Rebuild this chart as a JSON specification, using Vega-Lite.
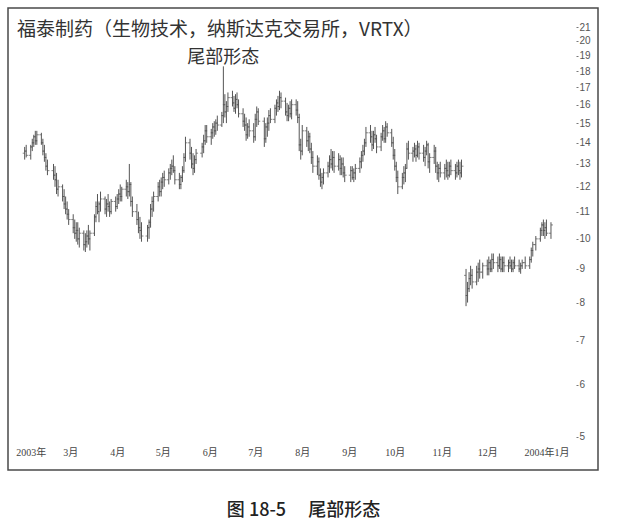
{
  "$schema": "https://vega.github.io/schema/vega-lite/v6.json",
  "width": 590,
  "height": 462,
  "padding": {"left": 8, "top": 8, "right": 19, "bottom": 5},
  "background": "white",
  "config": {
    "view": {"stroke": "#4a4a4a", "strokeWidth": 1.5},
    "font": "Noto Sans CJK SC"
  },
  "title": {
    "text": "福泰制药（生物技术，纳斯达克交易所，VRTX）",
    "anchor": "start",
    "frame": "group",
    "offset": -32,
    "dx": 9,
    "font": "Noto Sans CJK SC",
    "fontSize": 19,
    "fontWeight": "normal",
    "color": "#333333"
  },
  "data": {
    "values": [
      {"d": "2003-01-30", "o": 13.5, "h": 13.8, "l": 13.2, "c": 13.6},
      {"d": "2003-01-31", "o": 13.6, "h": 13.9, "l": 13.3, "c": 13.4},
      {"d": "2003-02-03", "o": 13.4, "h": 13.9, "l": 13.2, "c": 13.8},
      {"d": "2003-02-04", "o": 13.8, "h": 14.2, "l": 13.6, "c": 14.0},
      {"d": "2003-02-05", "o": 14.0, "h": 14.4, "l": 13.8, "c": 14.3},
      {"d": "2003-02-06", "o": 14.3, "h": 14.6, "l": 13.9, "c": 14.1},
      {"d": "2003-02-07", "o": 14.1, "h": 14.6, "l": 13.9, "c": 14.4},
      {"d": "2003-02-10", "o": 14.4, "h": 14.5, "l": 13.9, "c": 14.0},
      {"d": "2003-02-11", "o": 14.0, "h": 14.2, "l": 13.4, "c": 13.6},
      {"d": "2003-02-12", "o": 13.6, "h": 13.9, "l": 13.1, "c": 13.3},
      {"d": "2003-02-13", "o": 13.3, "h": 13.5, "l": 12.7, "c": 12.9},
      {"d": "2003-02-14", "o": 12.9, "h": 13.2, "l": 12.5, "c": 12.7},
      {"d": "2003-02-18", "o": 12.7, "h": 13.0, "l": 12.3, "c": 12.5},
      {"d": "2003-02-19", "o": 12.5, "h": 12.9, "l": 12.0, "c": 12.3},
      {"d": "2003-02-20", "o": 12.3, "h": 12.6, "l": 11.7, "c": 11.9},
      {"d": "2003-02-21", "o": 11.9, "h": 12.3, "l": 11.6, "c": 12.0},
      {"d": "2003-02-24", "o": 12.0, "h": 12.1, "l": 11.4, "c": 11.6},
      {"d": "2003-02-25", "o": 11.6, "h": 11.9, "l": 11.1, "c": 11.3},
      {"d": "2003-02-26", "o": 11.3, "h": 11.6, "l": 10.9, "c": 11.1},
      {"d": "2003-02-27", "o": 11.1, "h": 11.4, "l": 10.7, "c": 10.9},
      {"d": "2003-02-28", "o": 10.9, "h": 11.1, "l": 10.5, "c": 10.7},
      {"d": "2003-03-03", "o": 10.7, "h": 10.9, "l": 10.2, "c": 10.4},
      {"d": "2003-03-04", "o": 10.4, "h": 10.7, "l": 10.0, "c": 10.2},
      {"d": "2003-03-05", "o": 10.2, "h": 10.6, "l": 9.9, "c": 10.3},
      {"d": "2003-03-06", "o": 10.3, "h": 10.6, "l": 9.8, "c": 10.0},
      {"d": "2003-03-07", "o": 10.0, "h": 10.4, "l": 9.7, "c": 10.2},
      {"d": "2003-03-10", "o": 10.2, "h": 10.3, "l": 9.6, "c": 9.8},
      {"d": "2003-03-11", "o": 9.8, "h": 10.2, "l": 9.55, "c": 9.9},
      {"d": "2003-03-12", "o": 9.9, "h": 10.3, "l": 9.7, "c": 10.1},
      {"d": "2003-03-13", "o": 10.1, "h": 10.5, "l": 9.8, "c": 10.0},
      {"d": "2003-03-14", "o": 10.0, "h": 10.3, "l": 9.6, "c": 10.2},
      {"d": "2003-03-17", "o": 10.2, "h": 10.9, "l": 10.1, "c": 10.8},
      {"d": "2003-03-18", "o": 10.8, "h": 11.4, "l": 10.6, "c": 11.2},
      {"d": "2003-03-19", "o": 11.2, "h": 11.7, "l": 10.9, "c": 11.0},
      {"d": "2003-03-20", "o": 11.0, "h": 11.4, "l": 10.6, "c": 11.3},
      {"d": "2003-03-21", "o": 11.3, "h": 11.8, "l": 11.0, "c": 11.5},
      {"d": "2003-03-24", "o": 11.5, "h": 11.6, "l": 10.9, "c": 11.1},
      {"d": "2003-03-25", "o": 11.1, "h": 11.5, "l": 10.8, "c": 11.3},
      {"d": "2003-03-26", "o": 11.3, "h": 11.7, "l": 11.0, "c": 11.2},
      {"d": "2003-03-27", "o": 11.2, "h": 11.4, "l": 10.8, "c": 11.0},
      {"d": "2003-03-28", "o": 11.0, "h": 11.5, "l": 10.9, "c": 11.4},
      {"d": "2003-03-31", "o": 11.4, "h": 11.6, "l": 11.0, "c": 11.2},
      {"d": "2003-04-01", "o": 11.2, "h": 11.7, "l": 11.1, "c": 11.5},
      {"d": "2003-04-02", "o": 11.5, "h": 11.9, "l": 11.3, "c": 11.7},
      {"d": "2003-04-03", "o": 11.7, "h": 12.1, "l": 11.4, "c": 11.6},
      {"d": "2003-04-04", "o": 11.6, "h": 12.0, "l": 11.4, "c": 11.9},
      {"d": "2003-04-07", "o": 11.9, "h": 12.3, "l": 11.6, "c": 12.0},
      {"d": "2003-04-08", "o": 12.0, "h": 12.2, "l": 11.5, "c": 11.8},
      {"d": "2003-04-09", "o": 11.8, "h": 13.0, "l": 11.6, "c": 12.1},
      {"d": "2003-04-10", "o": 12.1, "h": 12.2, "l": 11.2, "c": 11.4},
      {"d": "2003-04-11", "o": 11.4, "h": 11.6, "l": 10.8, "c": 11.0},
      {"d": "2003-04-14", "o": 11.0, "h": 11.3, "l": 10.5, "c": 10.7},
      {"d": "2003-04-15", "o": 10.7, "h": 11.0, "l": 10.2, "c": 10.4},
      {"d": "2003-04-16", "o": 10.4, "h": 10.8, "l": 10.0, "c": 10.3},
      {"d": "2003-04-17", "o": 10.3, "h": 10.6, "l": 9.9, "c": 10.1},
      {"d": "2003-04-21", "o": 10.1, "h": 10.5, "l": 9.9, "c": 10.4},
      {"d": "2003-04-22", "o": 10.4, "h": 10.7, "l": 10.0, "c": 10.6},
      {"d": "2003-04-23", "o": 10.6, "h": 11.3, "l": 10.4, "c": 11.1},
      {"d": "2003-04-24", "o": 11.1, "h": 11.6, "l": 10.8, "c": 11.4},
      {"d": "2003-04-25", "o": 11.4, "h": 11.8, "l": 11.0, "c": 11.6},
      {"d": "2003-04-28", "o": 11.6, "h": 12.2, "l": 11.4, "c": 12.0},
      {"d": "2003-04-29", "o": 12.0, "h": 12.3, "l": 11.6, "c": 11.8},
      {"d": "2003-04-30", "o": 11.8, "h": 12.4, "l": 11.6, "c": 12.2},
      {"d": "2003-05-01", "o": 12.2, "h": 12.6, "l": 11.9, "c": 12.4},
      {"d": "2003-05-02", "o": 12.4, "h": 12.7, "l": 12.0, "c": 12.3},
      {"d": "2003-05-05", "o": 12.3, "h": 12.8, "l": 12.1, "c": 12.6},
      {"d": "2003-05-06", "o": 12.6, "h": 13.0, "l": 12.3, "c": 12.8},
      {"d": "2003-05-07", "o": 12.8, "h": 13.2, "l": 12.5, "c": 12.9},
      {"d": "2003-05-08", "o": 12.9, "h": 13.4, "l": 12.6, "c": 12.7},
      {"d": "2003-05-09", "o": 12.7, "h": 12.9, "l": 12.1, "c": 12.3},
      {"d": "2003-05-12", "o": 12.3, "h": 12.6, "l": 11.9, "c": 12.1},
      {"d": "2003-05-13", "o": 12.1, "h": 12.5, "l": 11.9, "c": 12.4},
      {"d": "2003-05-14", "o": 12.4, "h": 12.9, "l": 12.2, "c": 12.7},
      {"d": "2003-05-15", "o": 12.7, "h": 13.5, "l": 12.6, "c": 13.3},
      {"d": "2003-05-16", "o": 13.3, "h": 14.3, "l": 13.1, "c": 14.0},
      {"d": "2003-05-19", "o": 14.0, "h": 14.2, "l": 13.2, "c": 13.5},
      {"d": "2003-05-20", "o": 13.5, "h": 13.8, "l": 12.8, "c": 13.0},
      {"d": "2003-05-21", "o": 13.0, "h": 13.5, "l": 12.5, "c": 12.8},
      {"d": "2003-05-22", "o": 12.8, "h": 13.4, "l": 12.6, "c": 13.2},
      {"d": "2003-05-23", "o": 13.2, "h": 13.7, "l": 13.0, "c": 13.5},
      {"d": "2003-05-27", "o": 13.5, "h": 14.0, "l": 13.3, "c": 13.8},
      {"d": "2003-05-28", "o": 13.8, "h": 14.4, "l": 13.5, "c": 14.1},
      {"d": "2003-05-29", "o": 14.1, "h": 14.9, "l": 13.9, "c": 14.6},
      {"d": "2003-05-30", "o": 14.6, "h": 14.9, "l": 14.0, "c": 14.3},
      {"d": "2003-06-02", "o": 14.3, "h": 14.7, "l": 13.9, "c": 14.5},
      {"d": "2003-06-03", "o": 14.5, "h": 15.0, "l": 14.2, "c": 14.8},
      {"d": "2003-06-04", "o": 14.8, "h": 15.1, "l": 14.3, "c": 14.6},
      {"d": "2003-06-05", "o": 14.6, "h": 15.2, "l": 14.4, "c": 15.0},
      {"d": "2003-06-06", "o": 15.0, "h": 15.4, "l": 14.6, "c": 14.9},
      {"d": "2003-06-09", "o": 14.9, "h": 15.6, "l": 14.8, "c": 15.4},
      {"d": "2003-06-10", "o": 15.4, "h": 18.3, "l": 15.0, "c": 16.0},
      {"d": "2003-06-11", "o": 16.0, "h": 16.6, "l": 15.3, "c": 15.6},
      {"d": "2003-06-12", "o": 15.6, "h": 16.2, "l": 15.0, "c": 15.9},
      {"d": "2003-06-13", "o": 15.9, "h": 16.7, "l": 15.6, "c": 16.4},
      {"d": "2003-06-16", "o": 16.4, "h": 16.8, "l": 15.9, "c": 16.1},
      {"d": "2003-06-17", "o": 16.1, "h": 16.5, "l": 15.6, "c": 15.8},
      {"d": "2003-06-18", "o": 15.8, "h": 16.6, "l": 15.5, "c": 16.3},
      {"d": "2003-06-19", "o": 16.3, "h": 16.7, "l": 15.8, "c": 16.0},
      {"d": "2003-06-20", "o": 16.0, "h": 16.3, "l": 15.3, "c": 15.5},
      {"d": "2003-06-23", "o": 15.5, "h": 15.8, "l": 14.8, "c": 15.1},
      {"d": "2003-06-24", "o": 15.1, "h": 15.5, "l": 14.6, "c": 14.9},
      {"d": "2003-06-25", "o": 14.9, "h": 15.3, "l": 14.1, "c": 14.4},
      {"d": "2003-06-26", "o": 14.4, "h": 15.0, "l": 14.2, "c": 14.8},
      {"d": "2003-06-27", "o": 14.8, "h": 15.2, "l": 14.3, "c": 14.6},
      {"d": "2003-06-30", "o": 14.6, "h": 15.0, "l": 14.0, "c": 14.3},
      {"d": "2003-07-01", "o": 14.3, "h": 15.5, "l": 14.1, "c": 15.2},
      {"d": "2003-07-02", "o": 15.2, "h": 15.9, "l": 14.8, "c": 15.6},
      {"d": "2003-07-03", "o": 15.6, "h": 15.8, "l": 14.9, "c": 15.1},
      {"d": "2003-07-07", "o": 15.1, "h": 15.3, "l": 13.8, "c": 14.2},
      {"d": "2003-07-08", "o": 14.2, "h": 15.0, "l": 14.0, "c": 14.8},
      {"d": "2003-07-09", "o": 14.8, "h": 15.3, "l": 14.3, "c": 15.0},
      {"d": "2003-07-10", "o": 15.0, "h": 15.7, "l": 14.6, "c": 15.4},
      {"d": "2003-07-11", "o": 15.4, "h": 15.8, "l": 15.0, "c": 15.2},
      {"d": "2003-07-14", "o": 15.2, "h": 16.0, "l": 15.0, "c": 15.8},
      {"d": "2003-07-15", "o": 15.8, "h": 16.3, "l": 15.4, "c": 16.1},
      {"d": "2003-07-16", "o": 16.1, "h": 16.5, "l": 15.6, "c": 15.9},
      {"d": "2003-07-17", "o": 15.9, "h": 16.8, "l": 15.7, "c": 16.4},
      {"d": "2003-07-18", "o": 16.4, "h": 16.7, "l": 15.8, "c": 16.2},
      {"d": "2003-07-21", "o": 16.2, "h": 16.4, "l": 15.4, "c": 15.6},
      {"d": "2003-07-22", "o": 15.6, "h": 16.1, "l": 15.1, "c": 15.4},
      {"d": "2003-07-23", "o": 15.4, "h": 16.0, "l": 15.1, "c": 15.8},
      {"d": "2003-07-24", "o": 15.8, "h": 16.2, "l": 15.3, "c": 15.5},
      {"d": "2003-07-25", "o": 15.5, "h": 16.3, "l": 15.2, "c": 16.0},
      {"d": "2003-07-28", "o": 16.0, "h": 16.3, "l": 15.4, "c": 15.7},
      {"d": "2003-07-29", "o": 15.7, "h": 16.2, "l": 15.0, "c": 15.3},
      {"d": "2003-07-30", "o": 15.3, "h": 15.5, "l": 13.6, "c": 13.9},
      {"d": "2003-07-31", "o": 13.9, "h": 14.2, "l": 13.2, "c": 13.6},
      {"d": "2003-08-01", "o": 13.6, "h": 14.9, "l": 13.4, "c": 14.6},
      {"d": "2003-08-04", "o": 14.6, "h": 14.8, "l": 13.8, "c": 14.1},
      {"d": "2003-08-05", "o": 14.1, "h": 14.6, "l": 13.6, "c": 14.3},
      {"d": "2003-08-06", "o": 14.3, "h": 14.5, "l": 13.5, "c": 13.7},
      {"d": "2003-08-07", "o": 13.7, "h": 14.0, "l": 13.0, "c": 13.3},
      {"d": "2003-08-08", "o": 13.3, "h": 13.6, "l": 12.6, "c": 12.9},
      {"d": "2003-08-11", "o": 12.9, "h": 13.4, "l": 12.5, "c": 13.1},
      {"d": "2003-08-12", "o": 13.1, "h": 13.3, "l": 12.3, "c": 12.5},
      {"d": "2003-08-13", "o": 12.5, "h": 12.8, "l": 12.0, "c": 12.2},
      {"d": "2003-08-14", "o": 12.2, "h": 12.6, "l": 11.9, "c": 12.4},
      {"d": "2003-08-15", "o": 12.4, "h": 12.8, "l": 12.1, "c": 12.6},
      {"d": "2003-08-18", "o": 12.6, "h": 13.1, "l": 12.4, "c": 12.9},
      {"d": "2003-08-19", "o": 12.9, "h": 13.4, "l": 12.6, "c": 13.2},
      {"d": "2003-08-20", "o": 13.2, "h": 13.7, "l": 12.8, "c": 13.0},
      {"d": "2003-08-21", "o": 13.0, "h": 13.6, "l": 12.7, "c": 13.3},
      {"d": "2003-08-22", "o": 13.3, "h": 13.6, "l": 12.6, "c": 12.9},
      {"d": "2003-08-25", "o": 12.9, "h": 13.5, "l": 12.7, "c": 13.2},
      {"d": "2003-08-26", "o": 13.2, "h": 13.4, "l": 12.5, "c": 12.8},
      {"d": "2003-08-27", "o": 12.8, "h": 13.3, "l": 12.5, "c": 13.0},
      {"d": "2003-08-28", "o": 13.0, "h": 13.3, "l": 12.4, "c": 12.6},
      {"d": "2003-08-29", "o": 12.6, "h": 12.9, "l": 12.2, "c": 12.5},
      {"d": "2003-09-02", "o": 12.5, "h": 12.9, "l": 12.2, "c": 12.7},
      {"d": "2003-09-03", "o": 12.7, "h": 12.9, "l": 12.3, "c": 12.4},
      {"d": "2003-09-04", "o": 12.4, "h": 12.8, "l": 12.2, "c": 12.6},
      {"d": "2003-09-05", "o": 12.6, "h": 13.0, "l": 12.3, "c": 12.8},
      {"d": "2003-09-08", "o": 12.8, "h": 13.3, "l": 12.6, "c": 13.1},
      {"d": "2003-09-09", "o": 13.1, "h": 13.6, "l": 12.8, "c": 13.4},
      {"d": "2003-09-10", "o": 13.4, "h": 13.9, "l": 13.1, "c": 13.6},
      {"d": "2003-09-11", "o": 13.6, "h": 14.2, "l": 13.4, "c": 14.0},
      {"d": "2003-09-12", "o": 14.0, "h": 14.8, "l": 13.8, "c": 14.5},
      {"d": "2003-09-15", "o": 14.5, "h": 14.9, "l": 14.0, "c": 14.3},
      {"d": "2003-09-16", "o": 14.3, "h": 14.6, "l": 13.6, "c": 13.9},
      {"d": "2003-09-17", "o": 13.9, "h": 14.6, "l": 13.7, "c": 14.4},
      {"d": "2003-09-18", "o": 14.4, "h": 14.8, "l": 14.0, "c": 14.2},
      {"d": "2003-09-19", "o": 14.2, "h": 14.4, "l": 13.5, "c": 13.8},
      {"d": "2003-09-22", "o": 13.8, "h": 14.5, "l": 13.6, "c": 14.3},
      {"d": "2003-09-23", "o": 14.3, "h": 14.9, "l": 14.1, "c": 14.6},
      {"d": "2003-09-24", "o": 14.6, "h": 14.8, "l": 14.0, "c": 14.2},
      {"d": "2003-09-25", "o": 14.2, "h": 15.1, "l": 14.0, "c": 14.8},
      {"d": "2003-09-26", "o": 14.8, "h": 15.0, "l": 14.3, "c": 14.5},
      {"d": "2003-09-29", "o": 14.5, "h": 14.7, "l": 13.8, "c": 14.0},
      {"d": "2003-09-30", "o": 14.0, "h": 14.3, "l": 13.2, "c": 13.4},
      {"d": "2003-10-01", "o": 13.4, "h": 13.7, "l": 12.7, "c": 12.9},
      {"d": "2003-10-02", "o": 12.9, "h": 13.1, "l": 12.2, "c": 12.4},
      {"d": "2003-10-03", "o": 12.4, "h": 12.7, "l": 11.7, "c": 12.0},
      {"d": "2003-10-06", "o": 12.0, "h": 12.6, "l": 11.9, "c": 12.4},
      {"d": "2003-10-07", "o": 12.4, "h": 12.9, "l": 12.1, "c": 12.6},
      {"d": "2003-10-08", "o": 12.6, "h": 13.0, "l": 12.2, "c": 12.8},
      {"d": "2003-10-09", "o": 12.8, "h": 14.0, "l": 12.8, "c": 13.7},
      {"d": "2003-10-10", "o": 13.7, "h": 14.1, "l": 13.2, "c": 13.5},
      {"d": "2003-10-13", "o": 13.5, "h": 13.8, "l": 13.1, "c": 13.6},
      {"d": "2003-10-14", "o": 13.6, "h": 14.0, "l": 13.3, "c": 13.7},
      {"d": "2003-10-15", "o": 13.7, "h": 13.9, "l": 13.1, "c": 13.4},
      {"d": "2003-10-16", "o": 13.4, "h": 14.1, "l": 13.3, "c": 13.8},
      {"d": "2003-10-17", "o": 13.8, "h": 14.0, "l": 13.2, "c": 13.5},
      {"d": "2003-10-20", "o": 13.5, "h": 13.9, "l": 13.1, "c": 13.3},
      {"d": "2003-10-21", "o": 13.3, "h": 13.8, "l": 12.9, "c": 13.6},
      {"d": "2003-10-22", "o": 13.6, "h": 14.1, "l": 13.4, "c": 13.9},
      {"d": "2003-10-23", "o": 13.9, "h": 14.0, "l": 12.8, "c": 13.1},
      {"d": "2003-10-24", "o": 13.1, "h": 13.5, "l": 12.6, "c": 13.3},
      {"d": "2003-10-27", "o": 13.3, "h": 13.9, "l": 13.0, "c": 13.6},
      {"d": "2003-10-28", "o": 13.6, "h": 13.8, "l": 12.6, "c": 12.9},
      {"d": "2003-10-29", "o": 12.9, "h": 13.1, "l": 12.3, "c": 12.6},
      {"d": "2003-10-30", "o": 12.6, "h": 13.0, "l": 12.2, "c": 12.8},
      {"d": "2003-10-31", "o": 12.8, "h": 13.1, "l": 12.4, "c": 12.6},
      {"d": "2003-11-03", "o": 12.6, "h": 13.0, "l": 12.3, "c": 12.8},
      {"d": "2003-11-04", "o": 12.8, "h": 13.2, "l": 12.4, "c": 12.7},
      {"d": "2003-11-05", "o": 12.7, "h": 13.1, "l": 12.3, "c": 12.5},
      {"d": "2003-11-06", "o": 12.5, "h": 13.1, "l": 12.4, "c": 12.9},
      {"d": "2003-11-07", "o": 12.9, "h": 13.2, "l": 12.5, "c": 12.7},
      {"d": "2003-11-10", "o": 12.7, "h": 13.0, "l": 12.3, "c": 12.6},
      {"d": "2003-11-11", "o": 12.6, "h": 13.1, "l": 12.4, "c": 12.9},
      {"d": "2003-11-12", "o": 12.9, "h": 13.2, "l": 12.5, "c": 12.7},
      {"d": "2003-11-13", "o": 12.7, "h": 13.1, "l": 12.3, "c": 12.6},
      {"d": "2003-11-14", "o": 12.6, "h": 13.2, "l": 12.4, "c": 12.9},
      {"d": "2003-11-17", "o": 8.8, "h": 9.0, "l": 7.9, "c": 8.2},
      {"d": "2003-11-18", "o": 8.2, "h": 8.6, "l": 8.0, "c": 8.4},
      {"d": "2003-11-19", "o": 8.4, "h": 8.9, "l": 8.3, "c": 8.7},
      {"d": "2003-11-20", "o": 8.7, "h": 9.1, "l": 8.5, "c": 8.8},
      {"d": "2003-11-21", "o": 8.8, "h": 9.0, "l": 8.4, "c": 8.6},
      {"d": "2003-11-24", "o": 8.6, "h": 9.1, "l": 8.5, "c": 8.9},
      {"d": "2003-11-25", "o": 8.9, "h": 9.2, "l": 8.6, "c": 9.0},
      {"d": "2003-11-26", "o": 9.0, "h": 9.3, "l": 8.7, "c": 8.9},
      {"d": "2003-11-28", "o": 8.9, "h": 9.2, "l": 8.7, "c": 9.1},
      {"d": "2003-12-01", "o": 9.1, "h": 9.3, "l": 8.8, "c": 9.0},
      {"d": "2003-12-02", "o": 9.0, "h": 9.4, "l": 8.8, "c": 9.2},
      {"d": "2003-12-03", "o": 9.2, "h": 9.3, "l": 8.9, "c": 9.0},
      {"d": "2003-12-04", "o": 9.0, "h": 9.5, "l": 8.9, "c": 9.3},
      {"d": "2003-12-05", "o": 9.3, "h": 9.5, "l": 9.0, "c": 9.2},
      {"d": "2003-12-08", "o": 9.2, "h": 9.4, "l": 8.9, "c": 9.1},
      {"d": "2003-12-09", "o": 9.1, "h": 9.5, "l": 9.0, "c": 9.3},
      {"d": "2003-12-10", "o": 9.3, "h": 9.4, "l": 8.9, "c": 9.0},
      {"d": "2003-12-11", "o": 9.0, "h": 9.4, "l": 8.9, "c": 9.2},
      {"d": "2003-12-12", "o": 9.2, "h": 9.4, "l": 8.9, "c": 9.1},
      {"d": "2003-12-15", "o": 9.1, "h": 9.3, "l": 8.9, "c": 9.2},
      {"d": "2003-12-16", "o": 9.2, "h": 9.4, "l": 9.0, "c": 9.1},
      {"d": "2003-12-17", "o": 9.1, "h": 9.3, "l": 8.9, "c": 9.0},
      {"d": "2003-12-18", "o": 9.0, "h": 9.3, "l": 8.9, "c": 9.2},
      {"d": "2003-12-19", "o": 9.2, "h": 9.4, "l": 9.0, "c": 9.1},
      {"d": "2003-12-22", "o": 9.1, "h": 9.3, "l": 8.9, "c": 9.0},
      {"d": "2003-12-23", "o": 9.0, "h": 9.2, "l": 8.85, "c": 9.1},
      {"d": "2003-12-24", "o": 9.1, "h": 9.3, "l": 9.0, "c": 9.2},
      {"d": "2003-12-26", "o": 9.2, "h": 9.4, "l": 9.0, "c": 9.1},
      {"d": "2003-12-29", "o": 9.1, "h": 9.4, "l": 9.0, "c": 9.3},
      {"d": "2003-12-30", "o": 9.3, "h": 9.7, "l": 9.2, "c": 9.6},
      {"d": "2003-12-31", "o": 9.6, "h": 9.9, "l": 9.4, "c": 9.8},
      {"d": "2004-01-02", "o": 9.8, "h": 10.1, "l": 9.6, "c": 10.0},
      {"d": "2004-01-05", "o": 10.0, "h": 10.4, "l": 9.9, "c": 10.3},
      {"d": "2004-01-06", "o": 10.3, "h": 10.6, "l": 10.1, "c": 10.5},
      {"d": "2004-01-07", "o": 10.5, "h": 10.7, "l": 10.1, "c": 10.3},
      {"d": "2004-01-08", "o": 10.3, "h": 10.6, "l": 10.0, "c": 10.4},
      {"d": "2004-01-09", "o": 10.4, "h": 10.7, "l": 10.1, "c": 10.2},
      {"d": "2004-01-12", "o": 10.2, "h": 10.6, "l": 10.0, "c": 10.5}
    ]
  },
  "encoding": {
    "x": {
      "field": "d",
      "type": "temporal",
      "scale": {
        "domain": [
          {"year": 2003, "month": 1, "date": 19},
          {"year": 2004, "month": 2, "date": 12}
        ],
        "nice": false
      },
      "axis": {
        "orient": "bottom",
        "offset": -25,
        "domain": false,
        "ticks": false,
        "grid": false,
        "labelPadding": 2,
        "labelFlush": false,
        "labelOverlap": false,
        "labelFont": "Liberation Serif, Noto Sans CJK SC",
        "labelFontSize": 10,
        "labelColor": "#444444",
        "values": [
          {"year": 2003, "month": 2, "date": 3},
          {"year": 2003, "month": 3, "date": 1},
          {"year": 2003, "month": 4, "date": 1},
          {"year": 2003, "month": 5, "date": 1},
          {"year": 2003, "month": 6, "date": 1},
          {"year": 2003, "month": 7, "date": 1},
          {"year": 2003, "month": 8, "date": 1},
          {"year": 2003, "month": 9, "date": 1},
          {"year": 2003, "month": 10, "date": 1},
          {"year": 2003, "month": 11, "date": 1},
          {"year": 2003, "month": 12, "date": 1},
          {"year": 2004, "month": 1, "date": 9}
        ],
        "labelExpr": "month(datum.value) == 1 && year(datum.value) == 2003 ? '2003年' : month(datum.value) == 0 ? '2004年1月' : (month(datum.value) + 1) + '月'",
        "title": "图 18-5\u3000\u00a0尾部形态",
        "titleFont": "Noto Sans CJK SC",
        "titleFontSize": 18,
        "titleFontWeight": 500,
        "titleColor": "#222222",
        "titleY": 70,
        "titleBaseline": "alphabetic"
      }
    }
  },
  "layer": [
    {
      "mark": {"type": "rule", "color": "#555555", "strokeWidth": 1},
      "encoding": {
        "y": {
          "field": "l",
          "type": "quantitative",
          "scale": {"type": "log", "domain": [4.45, 22.45], "nice": false, "zero": false},
          "axis": {
            "orient": "right",
            "offset": -22,
            "domain": false,
            "grid": false,
            "tickSize": 2,
            "tickColor": "#777777",
            "labelPadding": 1,
            "labelOverlap": false,
            "labelFont": "Liberation Sans Narrow, Liberation Sans",
            "labelFontSize": 10,
            "labelColor": "#555555",
            "values": [5, 6, 7, 8, 9, 10, 11, 12, 13, 14, 15, 16, 17, 18, 19, 20, 21],
            "format": "d",
            "title": null
          }
        },
        "y2": {"field": "h"}
      }
    },
    {
      "mark": {"type": "tick", "orient": "horizontal", "size": 2, "thickness": 1, "xOffset": -1, "color": "#555555"},
      "encoding": {"y": {"field": "o", "type": "quantitative"}}
    },
    {
      "mark": {"type": "tick", "orient": "horizontal", "size": 2, "thickness": 1, "xOffset": 1, "color": "#555555"},
      "encoding": {"y": {"field": "c", "type": "quantitative"}}
    },
    {
      "transform": [{"filter": "datum.h > 18"}],
      "mark": {"type": "text", "baseline": "bottom", "dy": 1, "font": "Noto Sans CJK SC", "fontSize": 18, "color": "#333333"},
      "encoding": {
        "y": {"field": "h", "type": "quantitative"},
        "text": {"value": "尾部形态"}
      }
    }
  ]
}
